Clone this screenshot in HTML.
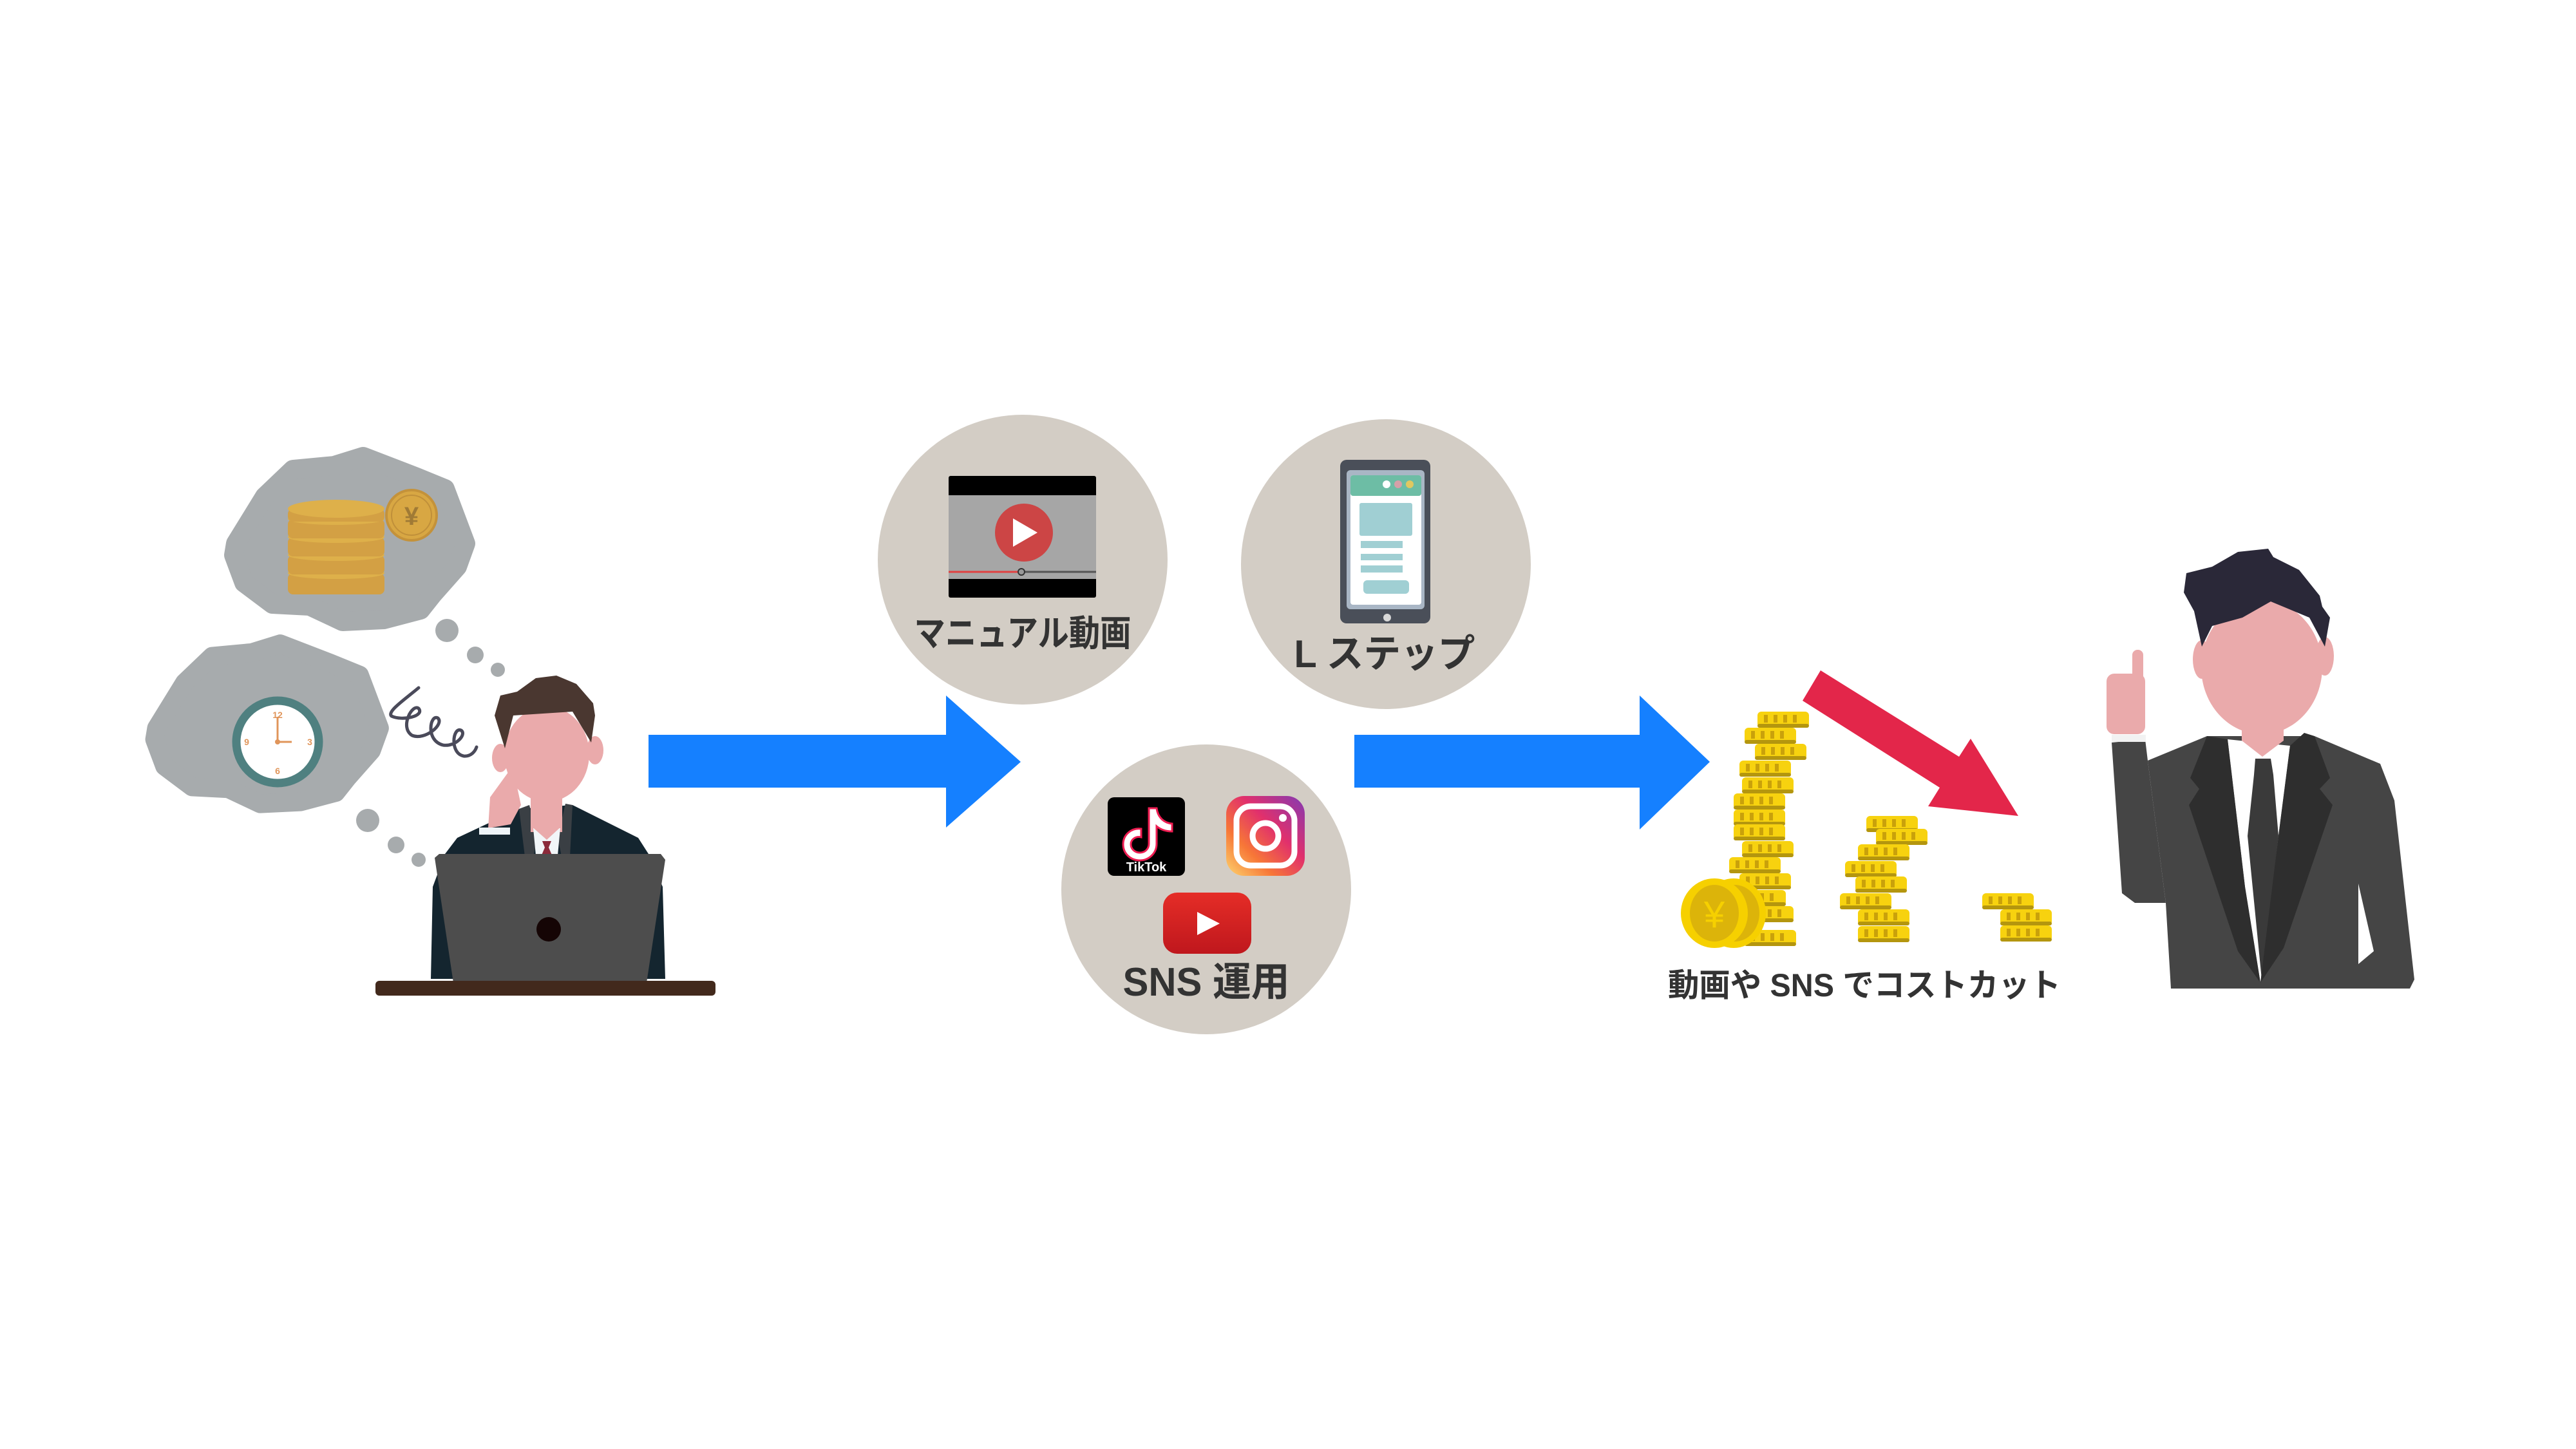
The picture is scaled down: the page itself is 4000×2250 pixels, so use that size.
<!DOCTYPE html>
<html><head><meta charset="utf-8"><style>
html,body{margin:0;padding:0;background:#fff;}
svg{display:block;}
text{font-family:"Liberation Sans","Noto Sans CJK JP",sans-serif;}
</style></head><body>
<svg width="4000" height="2250" viewBox="0 0 4000 2250" xmlns="http://www.w3.org/2000/svg">
<defs>
<linearGradient id="ig" x1="0" y1="1" x2="1" y2="0">
<stop offset="0" stop-color="#fdd56e"/><stop offset="0.3" stop-color="#f77737"/><stop offset="0.6" stop-color="#e1306c"/><stop offset="1" stop-color="#833ab4"/>
</linearGradient>
<linearGradient id="yt" x1="0" y1="0" x2="0" y2="1"><stop offset="0" stop-color="#e52d27"/><stop offset="1" stop-color="#bf171d"/></linearGradient>
<g id="coin">
<rect x="0" y="0" width="80" height="25" rx="6" fill="#f7d20f"/>
<rect x="0" y="19" width="80" height="6" rx="3" fill="#b4960e"/>
<rect x="10" y="5" width="6" height="12" fill="#c9a10b"/><rect x="25" y="5" width="6" height="12" fill="#c9a10b"/><rect x="40" y="5" width="6" height="12" fill="#c9a10b"/><rect x="55" y="5" width="6" height="12" fill="#c9a10b"/>
</g>
<path id="cloud" d="M366,844 L411,771 L455,729 L519,723 L564,709 L647,741 L691,759 L723,844 L710,880 L672,923 L653,947 L596,962 L532,965 L481,941 L423,938 L379,905 L363,862 Z"/>
</defs>

<use href="#cloud" fill="#a7abad" stroke="#a7abad" stroke-width="30" stroke-linejoin="round"/>
<g transform="translate(-112,312) scale(0.97)"><use href="#cloud" fill="#a7abad" stroke="#a7abad" stroke-width="30" stroke-linejoin="round"/></g>

<g>
<rect x="447" y="890" width="150" height="33" rx="8" fill="#d3a044"/>
<ellipse cx="522" cy="890" rx="75" ry="9" fill="#deb04a"/>
<rect x="447" y="862" width="150" height="30" rx="8" fill="#d3a044"/>
<ellipse cx="522" cy="862" rx="75" ry="9" fill="#deb04a"/>
<rect x="447" y="834" width="150" height="30" rx="8" fill="#d3a044"/>
<ellipse cx="522" cy="834" rx="75" ry="9" fill="#deb04a"/>
<rect x="447" y="806" width="150" height="30" rx="8" fill="#d3a044"/>
<ellipse cx="522" cy="806" rx="75" ry="9" fill="#deb04a"/>
<rect x="447" y="790" width="150" height="20" rx="8" fill="#d3a044"/>
<ellipse cx="522" cy="790" rx="75" ry="14" fill="#deb04a"/>
<circle cx="639" cy="800" r="39" fill="#d8a743" stroke="#c4923a" stroke-width="4"/>
<circle cx="639" cy="800" r="31" fill="none" stroke="#c0903a" stroke-width="2"/>
<text x="639" y="815" font-size="40" font-weight="bold" fill="#a07a35" text-anchor="middle">¥</text>
</g>

<circle cx="431" cy="1152" r="64" fill="#fff" stroke="#4f8080" stroke-width="13"/>
<line x1="431" y1="1152" x2="431" y2="1113" stroke="#e0955a" stroke-width="3"/>
<line x1="431" y1="1152" x2="453" y2="1152" stroke="#e0955a" stroke-width="3"/>
<circle cx="431" cy="1152" r="4" fill="#e0955a"/>
<text x="431" y="1115" font-size="14" font-weight="bold" fill="#e0955a" text-anchor="middle">12</text>
<text x="481" y="1157" font-size="14" font-weight="bold" fill="#e0955a" text-anchor="middle">3</text>
<text x="431" y="1202" font-size="14" font-weight="bold" fill="#e0955a" text-anchor="middle">6</text>
<text x="383" y="1157" font-size="14" font-weight="bold" fill="#e0955a" text-anchor="middle">9</text>

<circle cx="694" cy="979" r="18" fill="#a7abad"/><circle cx="738" cy="1017" r="13" fill="#a7abad"/><circle cx="773" cy="1040" r="11" fill="#a7abad"/>
<circle cx="571" cy="1274" r="18" fill="#a7abad"/><circle cx="615" cy="1312" r="13" fill="#a7abad"/><circle cx="650" cy="1335" r="11" fill="#a7abad"/>

<path d="M650,1068 C630,1085 600,1105 608,1112 C625,1120 660,1112 650,1100 C640,1092 620,1130 640,1142 C660,1150 690,1125 680,1115 C668,1108 660,1150 688,1157 C708,1160 725,1140 716,1134 C703,1128 698,1170 720,1174 C732,1175 738,1166 740,1160" fill="none" stroke="#4a4a5a" stroke-width="5" stroke-linecap="round"/>

<path d="M710,1301 L806,1256 L889,1250 L991,1301 L1007,1326 L1029,1377 L1033,1520 L669,1520 L672,1377 L691,1326 Z" fill="#14252f"/>
<path d="M806,1256 L822,1250 L835,1300 L828,1330 L815,1330 Z" fill="#3a3f44"/>
<path d="M889,1250 L878,1248 L866,1300 L872,1330 L885,1330 Z" fill="#3a3f44"/>
<rect x="824" y="1232" width="49" height="60" fill="#eaaaab"/>
<path d="M828,1286 L870,1286 L866,1328 L832,1328 Z" fill="#f2f6f8"/>
<path d="M824,1282 L849,1304 L873,1282 Z" fill="#eaaaab"/>
<path d="M842,1306 L856,1306 L852,1316 L858,1330 L840,1330 L846,1316 Z" fill="#8b2a3a"/>
<ellipse cx="777" cy="1177" rx="13" ry="22" fill="#eaaaab"/>
<ellipse cx="924" cy="1165" rx="13" ry="22" fill="#eaaaab"/>
<ellipse cx="849" cy="1171" rx="66" ry="74" fill="#eaaaab"/>
<path d="M768,1111 L777,1080 L803,1074 L832,1053 L864,1049 L895,1062 L921,1092 L924,1111 L918,1153 L889,1105 L797,1111 L784,1162 Z" fill="#4a3730"/>
<path d="M761,1238 L790,1198 L800,1212 L803,1222 L809,1250 L793,1280 L758,1286 Z" fill="#eaaaab"/>
<rect x="744" y="1285" width="48" height="11" fill="#eef4f8"/>
<path d="M682,1326 L1026,1326 L1033,1335 L1004,1526 L994,1535 L714,1535 L704,1526 L675,1332 Z" fill="#4d4d4d"/>
<circle cx="852" cy="1443" r="19" fill="#150505"/>
<rect x="583" y="1523" width="528" height="23" rx="6" fill="#42291c"/>

<path d="M1007,1141 L1469,1141 L1469,1080 L1585,1183 L1469,1285 L1469,1223 L1007,1223 Z" fill="#1580ff"/>
<path d="M2103,1141 L2546,1141 L2546,1080 L2655,1183 L2546,1288 L2546,1223 L2103,1223 Z" fill="#1580ff"/>

<circle cx="1588" cy="869" r="225" fill="#d3cdc5"/>
<circle cx="2152" cy="876" r="225" fill="#d3cdc5"/>
<circle cx="1873" cy="1381" r="225" fill="#d3cdc5"/>

<rect x="1473" y="739" width="229" height="189" rx="3" fill="#000"/>
<rect x="1473" y="769" width="229" height="130" fill="#a6a6a6"/>
<ellipse cx="1590" cy="827" rx="45" ry="45" fill="#cc4545"/>
<path d="M1573,805 L1611,827 L1573,849 Z" fill="#fff"/>
<line x1="1473" y1="888" x2="1586" y2="888" stroke="#e04040" stroke-width="3"/>
<line x1="1586" y1="888" x2="1702" y2="888" stroke="#555" stroke-width="3"/>
<circle cx="1586" cy="888" r="5" fill="#999" stroke="#333" stroke-width="2"/>
<text x="1588" y="1003" font-size="56" font-weight="bold" fill="#333" text-anchor="middle" textLength="337" lengthAdjust="spacingAndGlyphs">マニュアル動画</text>

<rect x="2081" y="714" width="140" height="254" rx="10" fill="#4a4f59"/>
<rect x="2091" y="730" width="121" height="216" rx="6" fill="#a9b6c5"/>
<rect x="2097" y="738" width="110" height="201" rx="4" fill="#fff"/>
<rect x="2097" y="738" width="110" height="32" rx="4" fill="#6dbda5"/>
<circle cx="2153" cy="752" r="6" fill="#fff"/><circle cx="2171" cy="752" r="6" fill="#d6a0a8"/><circle cx="2189" cy="752" r="6" fill="#e0c860"/>
<rect x="2111" y="781" width="82" height="51" rx="3" fill="#a0cfd3"/>
<rect x="2113" y="840" width="65" height="11" fill="#a0cfd3"/>
<rect x="2113" y="860" width="65" height="10" fill="#a0cfd3"/>
<rect x="2113" y="878" width="65" height="11" fill="#a0cfd3"/>
<rect x="2117" y="901" width="71" height="21" rx="6" fill="#a0cfd3"/>
<circle cx="2154" cy="959" r="6" fill="#d8d8d8"/>
<text x="2150" y="1036" font-size="60" font-weight="bold" fill="#333" text-anchor="middle" textLength="281" lengthAdjust="spacingAndGlyphs">L ステップ</text>

<rect x="1720" y="1238" width="120" height="122" rx="10" fill="#000"/>
<path d="M1784,1255 L1796,1255 C1798,1270 1808,1278 1820,1279 L1820,1291 C1810,1291 1802,1288 1796,1283 L1796,1310 C1796,1325 1784,1336 1770,1336 C1755,1336 1744,1325 1744,1311 C1744,1296 1757,1285 1772,1287 L1772,1300 C1764,1298 1756,1303 1756,1311 C1756,1318 1762,1324 1770,1324 C1778,1324 1784,1318 1784,1310 Z" fill="#fff" stroke="#ee1d52" stroke-width="3"/>
<text x="1780" y="1353" font-size="20" font-weight="bold" fill="#fff" text-anchor="middle">TikTok</text>
<rect x="1904" y="1236" width="122" height="124" rx="28" fill="url(#ig)"/>
<rect x="1920" y="1252" width="90" height="92" rx="22" fill="none" stroke="#fff" stroke-width="9"/>
<circle cx="1965" cy="1298" r="20" fill="none" stroke="#fff" stroke-width="9"/>
<circle cx="1992" cy="1270" r="6" fill="#fff"/>
<rect x="1806" y="1386" width="137" height="95" rx="22" fill="url(#yt)"/>
<path d="M1859,1416 L1894,1434 L1859,1452 Z" fill="#fff"/>
<text x="1873" y="1546" font-size="62" font-weight="bold" fill="#333" text-anchor="middle" textLength="259" lengthAdjust="spacingAndGlyphs">SNS 運用</text>

<path d="M2827,1041 L3042,1175 L3060,1147 L3134,1267 L2994,1252 L3012,1223 L2799,1088 Z" fill="#e3264a"/>

<use href="#coin" x="2729" y="1105"/><use href="#coin" x="2709" y="1130"/><use href="#coin" x="2725" y="1155"/><use href="#coin" x="2701" y="1181"/><use href="#coin" x="2705" y="1207"/><use href="#coin" x="2692" y="1232"/><use href="#coin" x="2692" y="1257"/><use href="#coin" x="2692" y="1280"/><use href="#coin" x="2705" y="1306"/><use href="#coin" x="2685" y="1331"/><use href="#coin" x="2701" y="1356"/><use href="#coin" x="2693" y="1382"/><use href="#coin" x="2705" y="1407"/><use href="#coin" x="2709" y="1444"/>
<use href="#coin" x="2898" y="1267"/><use href="#coin" x="2913" y="1287"/><use href="#coin" x="2885" y="1311"/><use href="#coin" x="2865" y="1337"/><use href="#coin" x="2881" y="1361"/><use href="#coin" x="2857" y="1387"/><use href="#coin" x="2885" y="1412"/><use href="#coin" x="2885" y="1438"/>
<use href="#coin" x="3078" y="1387"/><use href="#coin" x="3106" y="1412"/><use href="#coin" x="3106" y="1437"/>
<ellipse cx="2692" cy="1418" rx="50" ry="54" fill="#f6d000"/>
<ellipse cx="2694" cy="1418" rx="38" ry="44" fill="#dcb40a"/>
<ellipse cx="2662" cy="1418" rx="52" ry="54" fill="#f6d000"/>
<ellipse cx="2662" cy="1418" rx="38" ry="44" fill="#dcb40a"/>
<text x="2662" y="1440" font-size="58" fill="#f6d000" text-anchor="middle">¥</text>
<text x="2895" y="1547" font-size="50" font-weight="bold" fill="#333" text-anchor="middle" textLength="610" lengthAdjust="spacingAndGlyphs">動画や SNS でコストカット</text>

<path d="M3279,1153 L3331,1148 L3335,1181 L3363,1402 L3315,1402 L3295,1387 Z" fill="#454545"/>
<path d="M3335,1181 L3427,1143 L3594,1143 L3696,1186 L3718,1243 L3749,1521 L3742,1535 L3371,1535 L3363,1402 Z" fill="#454545"/>
<path d="M3459,1148 L3556,1158 L3538,1298 L3510,1526 L3486,1377 Z" fill="#fff"/>
<path d="M3481,1108 L3546,1108 L3546,1150 L3513,1175 L3481,1150 Z" fill="#eaaaab"/>
<path d="M3502,1178 L3526,1178 L3530,1203 L3538,1298 L3512,1521 L3490,1298 L3500,1203 Z" fill="#3a3a3a"/>
<path d="M3427,1143 L3459,1148 L3486,1377 L3510,1526 L3475,1477 L3399,1250 L3415,1225 L3401,1208 Z" fill="#2e2e2e"/>
<path d="M3578,1138 L3594,1143 L3618,1208 L3602,1225 L3622,1250 L3546,1472 L3510,1526 L3538,1298 L3556,1158 Z" fill="#2e2e2e"/>
<path d="M3662,1372 L3686,1477 L3662,1497 Z" fill="#fff"/>
<ellipse cx="3419" cy="1024" rx="14" ry="30" fill="#eaaaab"/>
<ellipse cx="3610" cy="1019" rx="14" ry="30" fill="#eaaaab"/>
<ellipse cx="3512" cy="1036" rx="94" ry="104" fill="#eaaaab"/>
<path d="M3395,890 L3435,880 L3475,857 L3522,852 L3530,865 L3570,885 L3602,925 L3606,942 L3618,959 L3610,1004 L3586,959 L3526,934 L3482,959 L3435,972 L3419,1004 L3407,949 L3391,920 Z" fill="#2a2838"/>
<rect x="3311" y="1009" width="17" height="90" rx="8" fill="#eaaaab"/>
<rect x="3271" y="1046" width="60" height="94" rx="12" fill="#eaaaab"/>
<rect x="3279" y="1141" width="53" height="11" fill="#f2f2f2"/>
</svg>
</body></html>
